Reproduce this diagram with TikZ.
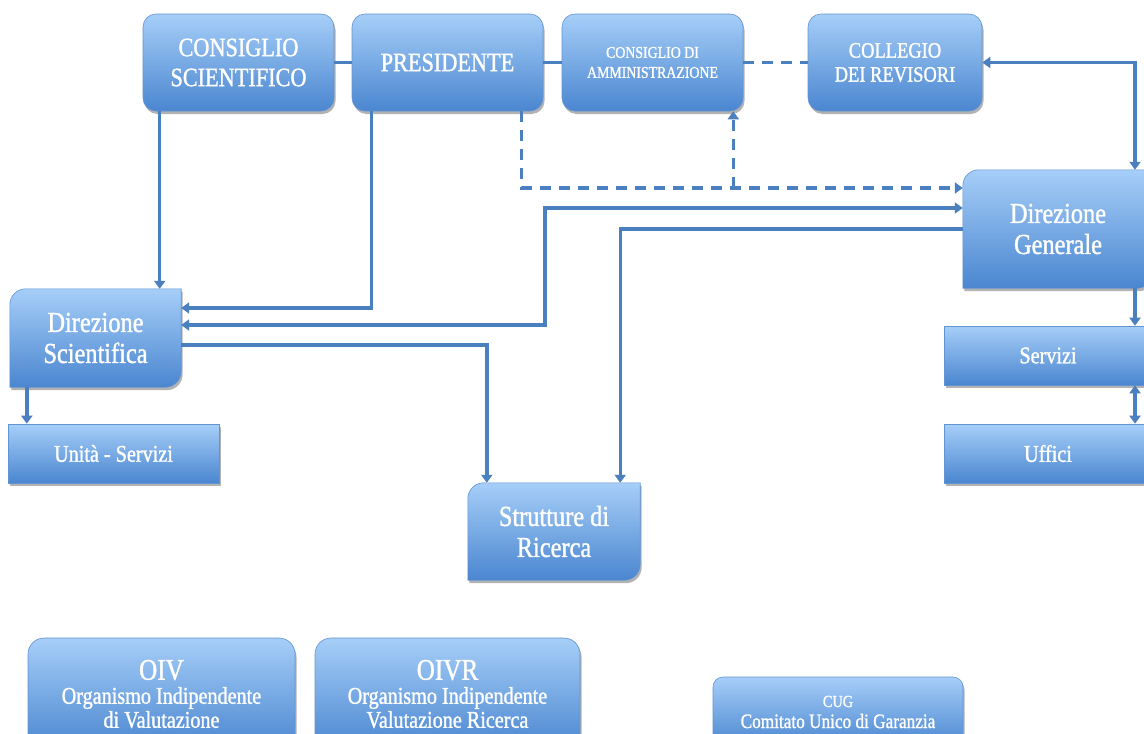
\documentclass[tikz,border=0pt]{standalone}
\usepackage{fontspec}
\setmainfont[FakeStretch=0.84,FakeBold=1.2]{Liberation Serif}
\usetikzlibrary{arrows.meta,shadows,backgrounds}
\definecolor{boxtop}{RGB}{166,206,248}
\definecolor{boxbot}{RGB}{74,134,208}
\definecolor{boxedge}{RGB}{98,148,212}
\definecolor{linec}{RGB}{74,127,192}
\begin{document}
\begin{tikzpicture}[x=1pt,y=1pt,
  shadowed/.style={drop shadow={shadow xshift=1.5pt,shadow yshift=-3pt,opacity=0.3,fill=black}},
  box/.style={rounded corners=13pt, top color=boxtop, bottom color=boxbot, draw=boxedge, line width=0.6pt, text=white, align=center, inner sep=0pt, shadowed},
  sqbox/.style={box, sharp corners},
  plainbox/.style={text=white, align=center, inner sep=0pt},
  diagshape/.style={top color=boxtop, bottom color=boxbot, draw=boxedge, line width=0.6pt, shadowed},
  conn/.style={draw=linec, line width=3.4pt},
  arr/.style={conn, -{Triangle[length=8pt,width=11pt]}},
  darr/.style={conn, {Triangle[length=8pt,width=11pt]}-{Triangle[length=8pt,width=11pt]}},
  dashconn/.style={conn, dash pattern=on 11pt off 8pt},
  fbig/.style={font=\fontsize{26.5}{30}\selectfont},
  fmid/.style={font=\fontsize{29}{31}\selectfont},
  fsmall/.style={font=\fontsize{24}{26}\selectfont},
]
\useasboundingbox (0,0) rectangle (1144,-734);
\clip (0,0) rectangle (1144,-734);

% top row
\node[box, fbig, minimum width=191, minimum height=97] (cs) at (238.5,-62.5) {CONSIGLIO\\SCIENTIFICO};
\node[box, fbig, minimum width=191, minimum height=97] (pres) at (447.5,-62.5) {PRESIDENTE};
\node[box, font=\fontsize{16.5}{20}\selectfont, minimum width=181, minimum height=97] (cda) at (652.5,-62.5) {CONSIGLIO DI\\AMMINISTRAZIONE};
\node[box, font=\fontsize{22}{24}\selectfont, minimum width=174, minimum height=97] (col) at (895,-62.5) {COLLEGIO\\DEI REVISORI};

% diagonal-rounded boxes
\node[plainbox, fmid, minimum width=190, minimum height=118] (dg) at (1058,-229) {Direzione\\Generale};
\node[plainbox, fmid, minimum width=171, minimum height=98] (ds) at (95.5,-338) {Direzione\\Scientifica};
\node[plainbox, fmid, minimum width=172, minimum height=97] (st) at (554,-531.5) {Strutture di\\Ricerca};
\begin{scope}[on background layer]
\fill[white] (0,0) rectangle (1144,-734);
\foreach \n in {dg,ds,st}{
  \path[diagshape] (\n.south west) -- ([yshift=-16pt]\n.north west)
    arc[start angle=180,end angle=90,radius=16pt] -- (\n.north east)
    -- ([yshift=16pt]\n.south east)
    arc[start angle=0,end angle=-90,radius=16pt] -- cycle;
}
\end{scope}

% square boxes
\node[sqbox, fsmall, minimum width=211, minimum height=59] (us) at (113.5,-453.5) {Unità - Servizi};
\node[sqbox, fsmall, minimum width=208, minimum height=59] (serv) at (1048,-355.5) {Servizi};
\node[sqbox, fsmall, minimum width=208, minimum height=59] (uff) at (1048,-453.5) {Uffici};

% bottom row
\node[box, rounded corners=16pt, font=\fontsize{24}{24}\selectfont, minimum width=267, minimum height=112] (oiv) at (161.5,-694) {{\fontsize{30}{27}\selectfont OIV}\\Organismo Indipendente\\di Valutazione};
\node[box, rounded corners=16pt, font=\fontsize{24}{24}\selectfont, minimum width=265, minimum height=112] (oivr) at (447.5,-694) {{\fontsize{30}{27}\selectfont OIVR}\\Organismo Indipendente\\Valutazione Ricerca};
\node[box, rounded corners=10pt, font=\fontsize{20.5}{21}\selectfont, minimum width=250, minimum height=70] (cug) at (838,-712) {{\fontsize{17}{21}\selectfont CUG}\\Comitato Unico di Garanzia};

% helper coordinates
\coordinate (rx) at ([xshift=77pt]dg.north);
\coordinate (dashy) at ([yshift=41pt]dg.west);
\coordinate (cdax) at ([xshift=-10pt]cda.south east);
\coordinate (presx) at ([xshift=-22pt]pres.south east);
\coordinate (presl) at ([xshift=20pt]pres.south west);
\coordinate (csx) at ([xshift=17pt]cs.south west);
\coordinate (dsx) at ([xshift=17pt]ds.south west);
\coordinate (dsA) at ([yshift=30pt]ds.east);
\coordinate (dsB) at ([yshift=13pt]ds.east);
\coordinate (dsC) at ([yshift=-7pt]ds.east);
\coordinate (dgA) at ([yshift=21pt]dg.west);
\coordinate (jx) at (545,0);
\coordinate (stL) at ([xshift=19pt]st.north west);
\coordinate (stR) at ([xshift=-20pt]st.north east);

% connectors top row
\draw[conn] (cs) -- (pres);
\draw[conn] (pres) -- (cda);
\draw[dashconn] (cda) -- (col);
\draw[darr] (col.east) -| (rx |- dg.north);
\draw[arr] (rx |- dg.south) -- (rx |- serv.north);
\draw[darr] (rx |- serv.south) -- (rx |- uff.north);

% to Direzione Scientifica
\draw[arr] (csx) -- (csx |- ds.north);
\draw[arr] (presl) |- (dsA);
\draw[darr] (dsB) -| (jx |- dgA) -- (dgA);
\draw[arr] (dsC) -| (stL);
\draw[arr] (dg.west) -| (stR);
\draw[arr] (dsx) -- (dsx |- us.north);

% dashed
\draw[dashconn, -{Triangle[length=8pt,width=11pt]}] (presx) |- (dashy);
\draw[dashconn, -{Triangle[length=8pt,width=11pt]}] (cdax |- dashy) -- (cdax);
\end{tikzpicture}
\end{document}
